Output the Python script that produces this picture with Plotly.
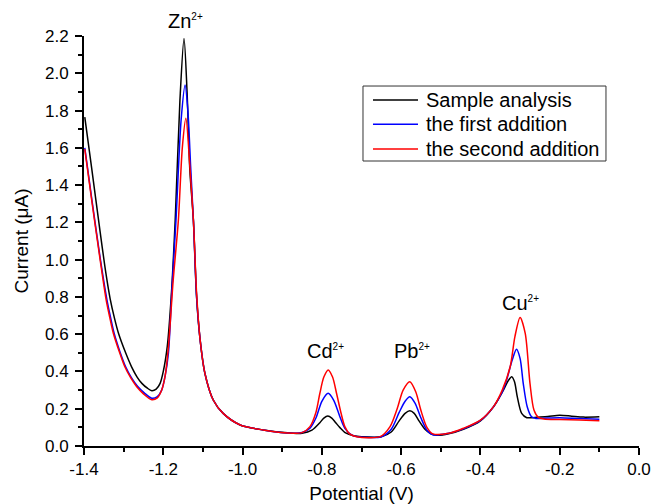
import plotly.graph_objects as go

# ---- data ----
sample_x = [-1.398, -1.38, -1.36, -1.345, -1.334, -1.323, -1.313, -1.295, -1.280, -1.266, -1.254, -1.240,
            -1.229, -1.218, -1.208, -1.20, -1.19, -1.18, -1.17, -1.158, -1.1477, -1.14, -1.133, -1.124,
            -1.116, -1.107, -1.095, -1.074, -1.049, -1.006, -0.948, -0.872, -0.85, -0.825, -0.805,
            -0.795, -0.785, -0.775, -0.765, -0.755, -0.74, -0.72, -0.70, -0.65, -0.625, -0.605, -0.59,
            -0.578, -0.567, -0.555, -0.54, -0.525, -0.51, -0.48, -0.443, -0.40, -0.367, -0.342, -0.33,
            -0.321, -0.314, -0.307, -0.296, -0.283, -0.27, -0.258, -0.23, -0.20, -0.17, -0.14, -0.10]
sample_y = [1.765, 1.48, 1.16, 0.93, 0.79, 0.685, 0.605, 0.50, 0.425, 0.37, 0.336, 0.31,
            0.297, 0.305, 0.336, 0.40, 0.533, 0.80, 1.21, 1.856, 2.187, 1.90, 1.48, 1.21,
            0.80, 0.569, 0.39, 0.247, 0.175, 0.113, 0.086, 0.068, 0.068, 0.085, 0.125,
            0.15, 0.161, 0.15, 0.125, 0.10, 0.07, 0.055, 0.05, 0.05, 0.075, 0.135, 0.175,
            0.189, 0.175, 0.135, 0.09, 0.066, 0.058, 0.066, 0.09, 0.135, 0.21, 0.30, 0.35,
            0.372, 0.345, 0.264, 0.175, 0.152, 0.152, 0.154, 0.158, 0.165, 0.16, 0.155, 0.157]

first_x = [-1.398, -1.38, -1.36, -1.342, -1.333, -1.324, -1.31, -1.295, -1.28, -1.265, -1.248, -1.229,
           -1.215, -1.204, -1.195, -1.187, -1.178, -1.168, -1.155, -1.145, -1.138, -1.131, -1.124,
           -1.116, -1.107, -1.095, -1.074, -1.049, -1.006, -0.948, -0.872, -0.85, -0.83, -0.815,
           -0.80, -0.784, -0.77, -0.755, -0.742, -0.725, -0.71, -0.65, -0.625, -0.605, -0.59,
           -0.578, -0.565, -0.55, -0.535, -0.52, -0.48, -0.443, -0.40, -0.367, -0.345, -0.334,
           -0.32, -0.309, -0.30, -0.292, -0.282, -0.271, -0.26, -0.23, -0.20, -0.15, -0.10]
first_y = [1.60, 1.32, 1.02, 0.783, 0.69, 0.605, 0.51, 0.425, 0.365, 0.32, 0.285, 0.256,
           0.265, 0.30, 0.38, 0.50, 0.85, 1.21, 1.75, 1.937, 1.80, 1.50, 1.21,
           0.80, 0.569, 0.39, 0.247, 0.175, 0.113, 0.086, 0.068, 0.072, 0.095, 0.15,
           0.24, 0.283, 0.245, 0.16, 0.095, 0.06, 0.05, 0.05, 0.09, 0.18, 0.24,
           0.264, 0.23, 0.15, 0.085, 0.06, 0.068, 0.092, 0.137, 0.211, 0.29, 0.354,
           0.46, 0.519, 0.47, 0.336, 0.211, 0.157, 0.148, 0.15, 0.152, 0.147, 0.143]

second_x = [-1.398, -1.38, -1.36, -1.344, -1.335, -1.326, -1.31, -1.297, -1.282, -1.267, -1.25, -1.229,
            -1.215, -1.204, -1.195, -1.187, -1.175, -1.162, -1.152, -1.143, -1.133, -1.124, -1.116,
            -1.107, -1.095, -1.074, -1.049, -1.006, -0.948, -0.872, -0.85, -0.83, -0.815, -0.805,
            -0.795, -0.784, -0.773, -0.763, -0.752, -0.742, -0.73, -0.712, -0.653, -0.628, -0.61,
            -0.595, -0.578, -0.563, -0.55, -0.535, -0.52, -0.48, -0.443, -0.40, -0.367, -0.345,
            -0.325, -0.313, -0.300, -0.287, -0.275, -0.265, -0.254, -0.24, -0.20, -0.15, -0.10]
second_y = [1.593, 1.31, 1.01, 0.783, 0.69, 0.605, 0.50, 0.425, 0.365, 0.318, 0.28, 0.248,
            0.258, 0.30, 0.38, 0.533, 0.89, 1.21, 1.60, 1.758, 1.50, 1.21, 0.82,
            0.569, 0.39, 0.247, 0.175, 0.113, 0.086, 0.068, 0.072, 0.104, 0.18, 0.283,
            0.37, 0.408, 0.37, 0.283, 0.18, 0.104, 0.065, 0.05, 0.05, 0.104, 0.20,
            0.30, 0.345, 0.29, 0.19, 0.10, 0.065, 0.068, 0.095, 0.139, 0.211, 0.30,
            0.425, 0.587, 0.69, 0.604, 0.336, 0.193, 0.154, 0.145, 0.142, 0.139, 0.136]

series_names = ["Sample analysis", "the first addition", "the second addition"]
series_colors = ["#000000", "#0000FF", "#FF0000"]

x_tick_vals = [-1.4, -1.2, -1.0, -0.8, -0.6, -0.4, -0.2, 0.0]
x_tick_text = ["-1.4", "-1.2", "-1.0", "-0.8", "-0.6", "-0.4", "-0.2", "0.0"]
y_tick_vals = [0.0, 0.2, 0.4, 0.6, 0.8, 1.0, 1.2, 1.4, 1.6, 1.8, 2.0, 2.2]
Y_MAX = 2.2

peak_ions = ["Zn", "Cd", "Pb", "Cu"]
peak_charge = "2+"
peak_label_x = [-1.145, -0.791, -0.573, -0.300]
peak_label_y = [2.21, 0.44, 0.44, 0.70]

FONT = "Liberation Sans, Arial"

fig = go.Figure()
for xs, ys, nm, col in zip([sample_x, first_x, second_x], [sample_y, first_y, second_y],
                           series_names, series_colors):
    fig.add_trace(go.Scatter(x=xs, y=ys, mode="lines", name=nm, showlegend=False,
                             line=dict(color=col, width=1.5, shape="spline", smoothing=0.8)))

# peak labels (y given in data units, placed via paper coords so the Zn label can sit above the frame)
for ion, px, py in zip(peak_ions, peak_label_x, peak_label_y):
    txt = ion + "<sup><span style='font-size:10px'>" + peak_charge + "</span></sup>"
    fig.add_annotation(x=px, xref="x", y=py / Y_MAX, yref="paper", text=txt, showarrow=False,
                       xanchor="center", yanchor="bottom",
                       font=dict(family=FONT, size=20, color="black"))

# legend box drawn in paper coordinates
leg_x0, leg_x1, leg_y0, leg_y1 = 0.5027, 0.9405, 0.6951, 0.878
row_y = [0.8439, 0.7846, 0.7244]
line_x0, line_x1, text_x = 0.5207, 0.6018, 0.6126
fig.add_shape(type="rect", xref="paper", yref="paper", x0=leg_x0, x1=leg_x1, y0=leg_y0, y1=leg_y1,
              line=dict(color="#333333", width=1), fillcolor="white", layer="above")
for nm, col, ry in zip(series_names, series_colors, row_y):
    fig.add_shape(type="line", xref="paper", yref="paper", x0=line_x0, x1=line_x1, y0=ry, y1=ry,
                  line=dict(color=col, width=1.5), layer="above")
    fig.add_annotation(x=text_x, y=ry, xref="paper", yref="paper", text=nm, showarrow=False,
                       xanchor="left", yanchor="middle",
                       font=dict(family=FONT, size=20, color="black"))

fig.update_layout(
    width=652, height=504,
    margin=dict(l=84, r=13, t=36, b=58, autoexpand=False),
    plot_bgcolor="white", paper_bgcolor="white",
    font=dict(family=FONT, color="black"),
    showlegend=False,
)
fig.update_xaxes(range=[-1.4, 0.0], tickvals=x_tick_vals, ticktext=x_tick_text, automargin=False,
                 showgrid=False, zeroline=False, showline=True, linecolor="black", linewidth=2,
                 ticks="outside", ticklen=7, tickwidth=1.5, tickcolor="black",
                 tickfont=dict(size=17),
                 minor=dict(dtick=0.1, tick0=0, ticks="outside", ticklen=4, tickwidth=1.5, tickcolor="black"),
                 title=dict(text="Potential (V)", font=dict(size=19), standoff=8))
fig.update_yaxes(range=[0, Y_MAX], tickvals=y_tick_vals, tickformat=".1f", automargin=False,
                 showgrid=False, zeroline=False, showline=True, linecolor="black", linewidth=2,
                 ticks="outside", ticklen=7, tickwidth=1.5, tickcolor="black",
                 tickfont=dict(size=17), ticklabelstandoff=3,
                 minor=dict(dtick=0.1, tick0=0, ticks="outside", ticklen=4, tickwidth=1.5, tickcolor="black"),
                 title=dict(text="Current (μA)", font=dict(size=19), standoff=11))

fig.write_html("out.html", config={"displayModeBar": False},
               post_script="document.body.style.margin='0';")
